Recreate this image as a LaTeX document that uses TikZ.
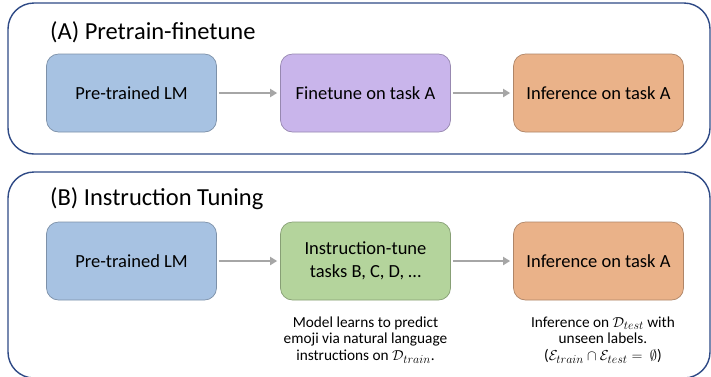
\documentclass[tikz,border=0pt]{standalone}
\usepackage{fontspec}
\setmainfont{Carlito}
\usetikzlibrary{arrows.meta}
% larger subscripts for the caption formulas
\DeclareMathSizes{15.3}{15.3}{11.8}{9}
\definecolor{framecol}{HTML}{2F4A86}
\definecolor{lmblue}{HTML}{A7C2E2}
\definecolor{ftpurple}{HTML}{C9B5EB}
\definecolor{itgreen}{HTML}{B4D49C}
\definecolor{infor}{HTML}{EAB289}
\definecolor{arrowgray}{HTML}{A6A6A6}
\tikzset{
  panel/.style={draw=framecol, line width=1.4pt, rounded corners=26pt},
  stage/.style={minimum width=170pt, minimum height=78pt, rounded corners=12pt,
    line width=0.7pt, align=center, font=\fontsize{18.5}{23}\selectfont, inner sep=2pt},
  flow/.style={draw=arrowgray, line width=2.8pt, -{Triangle[length=7pt,width=8pt]},
    shorten <=2pt, shorten >=3pt},
  heading/.style={anchor=west, font=\fontsize{24.5}{28}\selectfont, inner sep=0pt},
  caption/.style={align=center, font=\fontsize{15.3}{16.8}\selectfont, inner sep=0pt}
}
\begin{document}
\begin{tikzpicture}[x=1pt,y=1pt]
\useasboundingbox (0,0) rectangle (711,-376);
\clip (0,0) rectangle (711,-376);
\fill[white] (0,0) rectangle (711,-376);

% panel frames
\draw[panel] (8,-3) rectangle (710,-154);
\draw[panel] (8,-172) rectangle (710,-378);

% (A) pretrain-finetune
\node[heading] (ta) at (50,-32) {(A) Pretrain-finetune};
\node[stage, fill=lmblue, draw=lmblue!75!black] (a1) at (131.5,-93) {Pre-trained LM};
\node[stage, fill=ftpurple, draw=ftpurple!75!black] (a2) at (365.5,-93) {Finetune on task A};
\node[stage, fill=infor, draw=infor!75!black] (a3) at (598.5,-93) {Inference on task A};
\draw[flow] (a1) -- (a2);
\draw[flow] (a2) -- (a3);

% (B) instruction tuning
\node[heading] (tb) at (50,-199) {(B) Instruction Tuning};
\node[stage, fill=lmblue, draw=lmblue!75!black] (b1) at (131.5,-261) {Pre-trained LM};
\node[stage, fill=itgreen, draw=itgreen!75!black] (b2) at (365.5,-261) {Instruction-tune\\tasks B, C, D, \dots};
\node[stage, fill=infor, draw=infor!75!black] (b3) at (598.5,-261) {Inference on task A};
\draw[flow] (b1) -- (b2);
\draw[flow] (b2) -- (b3);

\node[caption] (c2) at (365.5,-340) {Model learns to predict\\emoji via natural language\\instructions on $\mathcal{D}_{train}$.};
\node[caption] (c3) at (603,-340) {Inference on $\mathcal{D}_{test}$ with\\unseen labels.\\($\mathcal{E}_{train}\cap\mathcal{E}_{test} = \ \emptyset$)};
\end{tikzpicture}
\end{document}
